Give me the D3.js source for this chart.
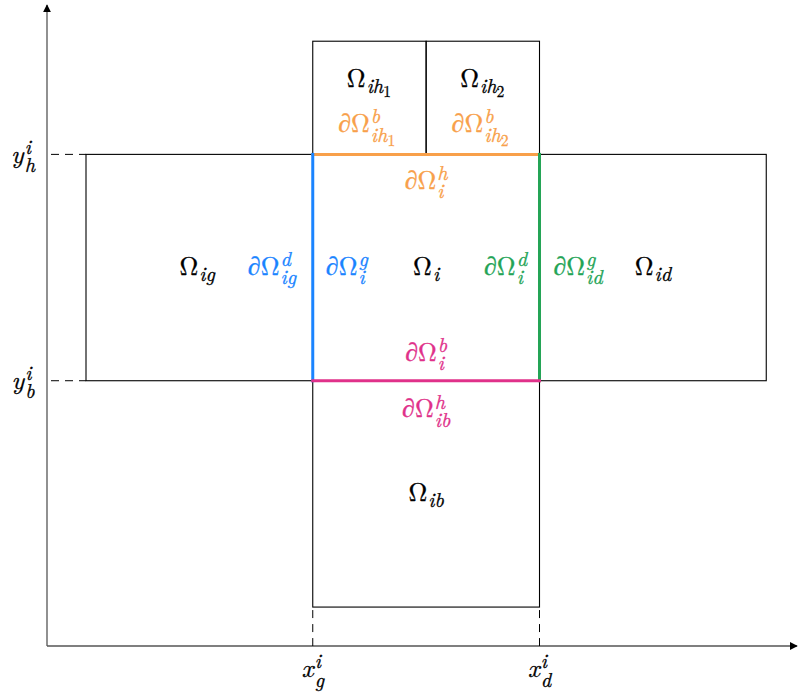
<!DOCTYPE html>
<html><head><meta charset="utf-8">
<script src="https://cdn.jsdelivr.net/npm/d3@7"></script>
<style>
html,body{margin:0;padding:0;background:#fff;}
svg{display:block;}
</style></head>
<body>
<svg id="chart" width="798" height="695"></svg>
<script>
// ---- data (domain units) ----
const xDomain = [-0.172, 3.14];
const yDomain = [-0.172, 2.66];
const xTickValues = [1, 2];
const xTickLabels = [["x","i","g"], ["x","i","d"]];
const yTickValues = [2, 1];
const yTickLabels = [["y","i","h"], ["y","i","b"]];
const regionNames = ["ig", "id", "ih1", "ih2", "ib"];
const regionX0 = [0, 2, 1, 1.5, 1];
const regionX1 = [1, 3, 1.5, 2, 2];
const regionY0 = [1, 1, 2, 2, 0];
const regionY1 = [2, 2, 2.5, 2.5, 1];
const boundaryNames = ["top", "left", "right", "bottom"];
const boundaryFrom = [[1,2],[1,1],[2,1],[1,1]];
const boundaryTo = [[2,2],[1,2],[2,2],[2,1]];
const boundaryColors = ["#f8a04a", "#1a84ff", "#24a456", "#e0318a"];
// labels: base, superscript, subscript parts, color, position (domain)
const labelBase = ["Ω","Ω","∂Ω","∂Ω","∂Ω","Ω","∂Ω","∂Ω","Ω","∂Ω","∂Ω","Ω","∂Ω","∂Ω","Ω"];
const labelSup  = ["","","b","b","h","","d","g","","d","g","","b","h",""];
const labelSub  = [["ih","1"],["ih","2"],["ih","1"],["ih","2"],["i",""],["ig",""],["ig",""],["i",""],["i",""],["i",""],["id",""],["id",""],["i",""],["ib",""],["ib",""]];
const labelColor = ["#000","#000","#f8a04a","#f8a04a","#f8a04a","#000","#1a84ff","#1a84ff","#000","#24a456","#24a456","#000","#e0318a","#e0318a","#000"];
const labelX = [1.25,1.75,1.24,1.74,1.5,0.49,0.82,1.15,1.5,1.85,2.17,2.5,1.5,1.5,1.5];
const labelY = [2.33,2.33,2.13,2.13,1.88,1.5,1.5,1.5,1.5,1.5,1.5,1.5,1.12,0.87,0.5];

const FONT = "'Latin Modern Roman', 'CMU Serif', 'Liberation Serif', serif";
const svg = d3.select("#chart");
const x = d3.scaleLinear().domain(xDomain).range([47, 798]);
const y = d3.scaleLinear().domain(yDomain).range([646, 5]);

// axes
const defs = svg.append("defs");
defs.append("marker").attr("id","arr").attr("viewBox","0 0 10 10").attr("refX",9).attr("refY",5)
  .attr("markerWidth",8).attr("markerHeight",8).attr("markerUnits","userSpaceOnUse").attr("orient","auto")
  .append("path").attr("d","M0,0 L10,5 L0,10 z").attr("fill","#000");
svg.append("line").attr("x1",x(xDomain[0])).attr("y1",y(yDomain[0])).attr("x2",x(xDomain[1])-1).attr("y2",y(yDomain[0]))
  .attr("stroke","#555").attr("stroke-width",1.3).attr("marker-end","url(#arr)");
svg.append("line").attr("x1",x(xDomain[0])).attr("y1",y(yDomain[0])).attr("x2",x(xDomain[0])).attr("y2",y(yDomain[1]))
  .attr("stroke","#555").attr("stroke-width",1.3).attr("marker-end","url(#arr)");

// dashed guides
xTickValues.forEach(v => {
  svg.append("line").attr("x1",x(v)).attr("x2",x(v)).attr("y1",y(0)).attr("y2",y(yDomain[0]))
    .attr("stroke","#000").attr("stroke-width",1).attr("stroke-dasharray","8,6").attr("stroke-dashoffset",-3);
});
yTickValues.forEach(v => {
  svg.append("line").attr("x1",x(xDomain[0])).attr("x2",x(0)).attr("y1",y(v)).attr("y2",y(v))
    .attr("stroke","#000").attr("stroke-width",1).attr("stroke-dasharray","8,6").attr("stroke-dashoffset",-4);
});

// regions
regionNames.forEach((n,i) => {
  svg.append("rect").attr("x",x(regionX0[i])).attr("y",y(regionY1[i]))
    .attr("width",x(regionX1[i])-x(regionX0[i])).attr("height",y(regionY0[i])-y(regionY1[i]))
    .attr("fill","none").attr("stroke","#000").attr("stroke-width",1.1);
});

// boundaries
boundaryNames.forEach((n,i) => {
  svg.append("line").attr("x1",x(boundaryFrom[i][0])).attr("y1",y(boundaryFrom[i][1]))
    .attr("x2",x(boundaryTo[i][0])).attr("y2",y(boundaryTo[i][1]))
    .attr("stroke",boundaryColors[i]).attr("stroke-width",3).attr("stroke-linecap","square");
});

// math label helper: one <text> per label, stacked scripts via tspans
function mathLabel(cx, cy, base, sup, sub, color, size) {
  const fs = size, ss = size*0.78, sss = size*0.6;
  const g = svg.append("g");
  const t = g.append("text").attr("font-family", FONT).attr("font-size", fs)
    .attr("fill", color).attr("stroke", color).attr("stroke-width", 0.3).attr("x", 0).attr("y", 0);
  base.split("").forEach(ch => {
    t.append("tspan").attr("font-style", ch==="Ω" ? "normal" : "italic").text(ch);
  });
  const w = t.node().getComputedTextLength();
  let maxW = 0;
  if (sup) {
    const s = t.append("tspan").attr("x", w+1).attr("y", -fs*0.34).attr("font-size", ss)
      .attr("font-style","italic").text(sup);
    maxW = Math.max(maxW, s.node().getComputedTextLength());
  }
  if (sub && sub[0]) {
    const s = t.append("tspan").attr("x", w+1).attr("y", sup ? fs*0.36 : fs*0.24).attr("font-size", ss)
      .attr("font-style","italic").text(sub[0]);
    let sw = s.node().getComputedTextLength();
    if (sub[1]) {
      const s2 = t.append("tspan").attr("font-style","normal").attr("font-size", sss).attr("dy", ss*0.2).text(sub[1]);
      sw += s2.node().getComputedTextLength() + 1;
    }
    maxW = Math.max(maxW, sw);
  }
  const total = w + 1 + maxW;
  g.attr("transform", `translate(${cx - total/2},${cy + fs*0.28})`);
  return g;
}

labelBase.forEach((b,i) => {
  mathLabel(x(labelX[i]), y(labelY[i]), b, labelSup[i], labelSub[i], labelColor[i], 26);
});

// tick labels
xTickValues.forEach((v,i) => {
  const L = xTickLabels[i];
  mathLabel(x(v), 670, L[0], L[1], [L[2],""], "#000", 26);
});
yTickValues.forEach((v,i) => {
  const L = yTickLabels[i];
  mathLabel(23, y(v)+1, L[0], L[1], [L[2],""], "#000", 26);
});
</script>
</body></html>
